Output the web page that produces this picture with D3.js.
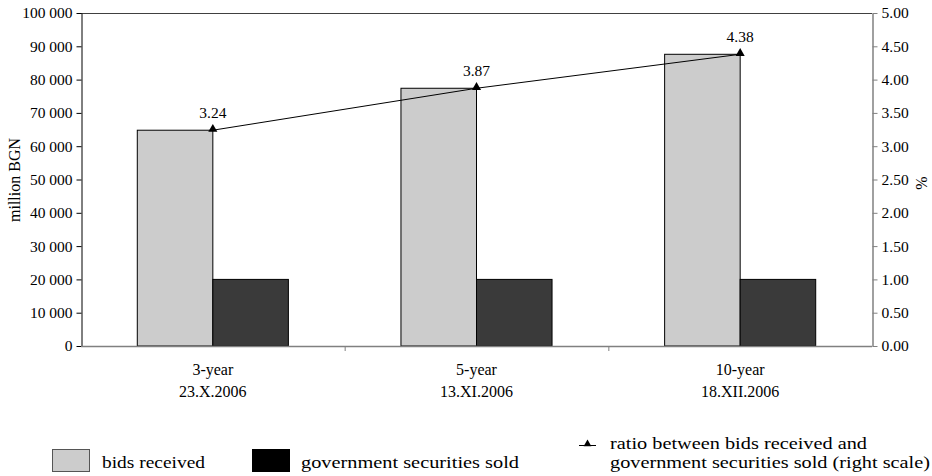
<!DOCTYPE html>
<html>
<head>
<meta charset="utf-8">
<script src="https://cdn.jsdelivr.net/npm/d3@7"></script>
<style>
  html, body { margin: 0; padding: 0; background: #fff; }
</style>
</head>
<body>
<svg id="chart" width="932" height="476"></svg>
<script>
// ---- data ----
const categories = ["3-year", "5-year", "10-year"];
const dates = ["23.X.2006", "13.XI.2006", "18.XII.2006"];
const bidsReceived = [64800, 77400, 87600];
const securitiesSold = [20000, 20000, 20000];
const ratio = [3.24, 3.87, 4.38];
const leftTicks = [0, 10000, 20000, 30000, 40000, 50000, 60000, 70000, 80000, 90000, 100000];
const rightTicks = [0, 0.5, 1, 1.5, 2, 2.5, 3, 3.5, 4, 4.5, 5];
const seriesNames = ["bids received", "government securities sold"];
const lineName = ["ratio between bids received and", "government securities sold (right scale)"];

// ---- layout ----
const FONT = "Liberation Serif, Times New Roman, Tinos, DejaVu Serif, Times, serif";
const svg = d3.select("#chart").attr("font-family", FONT);
const L = 81, R = 872, T = 13, B = 346;
const x = d3.scaleBand().domain(categories).range([L, R]).paddingInner(0).paddingOuter(0);
const yL = d3.scaleLinear().domain([0, 100000]).range([B, T]);
const yR = d3.scaleLinear().domain([0, 5]).range([B, T]);
const groupW = x.bandwidth() * 0.573;
const x1 = d3.scaleBand().domain(seriesNames).range([0, groupW]).padding(0);
const colors = ["#cccccc", "#3a3a3a"];

const fmtL = d => d3.format(",")(d).replace(/,/g, " ");

// bars
const rows = categories.map((c, i) => ({ c, vals: [bidsReceived[i], securitiesSold[i]] }));
const g = svg.append("g");
rows.forEach(r => {
  const gx = x(r.c) + (x.bandwidth() - groupW) / 2;
  g.selectAll(null).data(r.vals).enter().append("rect")
    .attr("x", (d, j) => gx + x1(seriesNames[j]))
    .attr("y", d => yL(d))
    .attr("width", x1.bandwidth())
    .attr("height", d => yL(0) - yL(d))
    .attr("fill", (d, j) => colors[j])
    .attr("stroke", "#000")
    .attr("stroke-width", 1);
});

// top frame line
svg.append("line").attr("x1", L).attr("x2", R).attr("y1", T + 0.5).attr("y2", T + 0.5)
  .attr("stroke", "#404040").attr("stroke-width", 1);

// left axis
const axL = svg.append("g").attr("transform", `translate(${L + 0.5},0)`)
  .call(d3.axisLeft(yL).tickValues(leftTicks).tickSize(5).tickSizeOuter(0).tickPadding(4).tickFormat(fmtL));
axL.attr("font-family", FONT);
axL.select(".domain").attr("stroke", "#000");
axL.selectAll(".tick line").attr("stroke", "#000");
axL.selectAll("text").attr("font-size", 15.5).attr("fill", "#000");

// right axis
const axR = svg.append("g").attr("transform", `translate(${R + 0.5},0)`)
  .call(d3.axisRight(yR).tickValues(rightTicks).tickSize(5).tickSizeOuter(0).tickPadding(4).tickFormat(d3.format(".2f")));
axR.attr("font-family", FONT);
axR.select(".domain").attr("stroke", "#808080").attr("stroke-width", 1.5);
axR.selectAll(".tick line").attr("stroke", "#808080");
axR.selectAll("text").attr("font-size", 15.5).attr("fill", "#000");

// bottom axis
const boundaries = categories.slice(1).map(c => x(c));
svg.append("line").attr("x1", L).attr("x2", R).attr("y1", B + 0.5).attr("y2", B + 0.5)
  .attr("stroke", "#808080").attr("stroke-width", 1.5);
svg.selectAll(".btick").data(boundaries).enter().append("line")
  .attr("x1", d => d + 0.5).attr("x2", d => d + 0.5).attr("y1", B).attr("y2", B + 5)
  .attr("stroke", "#808080");

// category labels
svg.selectAll(".cat").data(categories).enter().append("text")
  .attr("x", d => x(d) + x.bandwidth() / 2).attr("y", 375)
  .attr("text-anchor", "middle").attr("font-size", 16).text(d => d);
svg.selectAll(".date").data(dates).enter().append("text")
  .attr("x", (d, i) => x(categories[i]) + x.bandwidth() / 2).attr("y", 397)
  .attr("text-anchor", "middle").attr("font-size", 16).text(d => d);

// line
const cx = c => x(c) + x.bandwidth() / 2;
const line = d3.line().x((d, i) => cx(categories[i])).y(d => yR(d));
svg.append("path").datum(ratio).attr("d", line).attr("fill", "none").attr("stroke", "#000").attr("stroke-width", 1);
const tri = d3.symbol().type(d3.symbolTriangle).size(36);
svg.selectAll(".mk").data(ratio).enter().append("path")
  .attr("d", tri).attr("transform", (d, i) => `translate(${cx(categories[i])},${yR(d) - 1})`)
  .attr("fill", "#000");
svg.selectAll(".lbl").data(ratio).enter().append("text")
  .attr("x", (d, i) => cx(categories[i])).attr("y", d => yR(d) - 12.5)
  .attr("text-anchor", "middle").attr("font-size", 15.5).text(d => d3.format(".2f")(d));

// axis titles
svg.append("text").attr("transform", "translate(20,180) rotate(-90)")
  .attr("text-anchor", "middle").attr("font-size", 16).text("million BGN");
svg.append("text").attr("transform", "translate(927,183) rotate(-90)")
  .attr("text-anchor", "middle").attr("font-size", 16).text("%");

// legend
const lg = svg.append("g");
const legendWidths = [103, 218];
[[52, 102], [252, 301]].forEach((p, j) => {
  lg.append("rect").attr("x", p[0] + 0.5).attr("y", 449.5).attr("width", 37).attr("height", 22)
    .attr("fill", j === 0 ? colors[0] : "#000").attr("stroke", j === 0 ? "#555" : "#000");
  lg.append("text").attr("x", p[1]).attr("y", 468).attr("font-size", 17.5)
    .attr("textLength", legendWidths[j]).attr("lengthAdjust", "spacingAndGlyphs").text(seriesNames[j]);
});
lg.append("line").attr("x1", 579).attr("x2", 596).attr("y1", 445.5).attr("y2", 445.5).attr("stroke", "#000");
lg.append("path").attr("d", d3.symbol().type(d3.symbolTriangle).size(26)).attr("transform", "translate(587.5,444)");
lg.append("text").attr("x", 610).attr("y", 449).attr("font-size", 17)
  .attr("textLength", 257).attr("lengthAdjust", "spacingAndGlyphs").text(lineName[0]);
lg.append("text").attr("x", 610).attr("y", 468).attr("font-size", 17)
  .attr("textLength", 320).attr("lengthAdjust", "spacingAndGlyphs").text(lineName[1]);
</script>
</body>
</html>
